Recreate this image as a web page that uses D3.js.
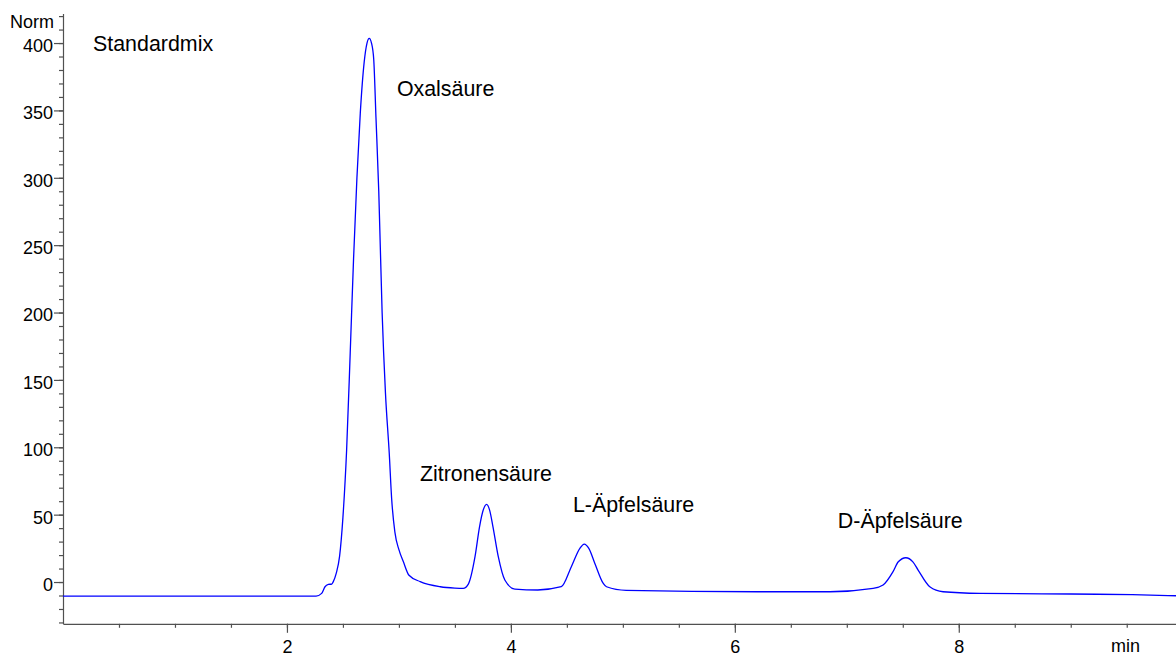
<!DOCTYPE html>
<html>
<head>
<meta charset="utf-8">
<script src="https://cdn.jsdelivr.net/npm/d3@7"></script>
<style>
  body { margin: 0; background: #fff; }
  svg { display: block; font-family: "Liberation Sans", Arial, sans-serif; }
</style>
</head>
<body>
<div id="chart"></div>
<script>
// retention time (min) and detector signal (Norm)
var times = [0.0, 1.0, 2.0, 2.26, 2.31, 2.34, 2.37, 2.40, 2.414, 2.44, 2.47, 2.50, 2.533, 2.565,
  2.595, 2.625, 2.655, 2.69, 2.715, 2.735, 2.755, 2.775, 2.795, 2.82, 2.85, 2.88, 2.914, 2.935,
  2.964, 3.0, 3.04, 3.09, 3.19, 3.37, 3.5, 3.574, 3.62, 3.68, 3.72, 3.753, 3.783, 3.81, 3.84,
  3.887, 3.946, 4.036, 4.24, 4.45, 4.54, 4.616, 4.655, 4.696, 4.75, 4.825, 4.854, 5.03,
  6.2, 6.85, 7.235, 7.324, 7.413, 7.46, 7.527, 7.59, 7.637, 7.741, 7.86, 8.19, 9.0, 9.55, 9.94];
var signal = [-10.4, -10.4, -10.4, -10.4, -8.4, -3.5, -1.8, -1.5, 0.3, 6.4, 19, 48, 98, 170,
  240, 300, 348, 386, 400, 403.5, 400, 388, 345, 290, 200, 140, 95, 62,
  37, 24, 15, 5, 0.3, -3.5, -4.5, -4.7, -1.5, 19, 41, 53.4, 57.6, 53.4, 41,
  19, 1.5, -5.2, -5.9, -3.5, 11.4, 25, 28.2, 25, 13.8, -1, -3.5, -6.2,
  -7.2, -7.2, -4.7, -2.2, 7.7, 15, 18, 15, 8.9, -3.5, -7.2, -8.4, -8.9, -9.4, -10.2];

var labelTexts = ["Standardmix", "Oxalsäure", "Zitronensäure", "L-Äpfelsäure", "D-Äpfelsäure"];
var labelTimes = [0.268, 2.982, 3.188, 4.554, 6.92];
var labelSignals = [394, 360.7, 75, 52, 40];

var yMajorTicks = [0, 50, 100, 150, 200, 250, 300, 350, 400];
var xMajorTicks = [2, 4, 6, 8];

var W = 1176, H = 657;

var svg = d3.select("#chart")
  .append("svg")
    .attr("width", W)
    .attr("height", H);

var x = d3.scaleLinear()
    .domain([0, 9.94])
    .range([63, 1176]);

var y = d3.scaleLinear()
    .domain([-31, 422])
    .range([623.8, 13.4]);

var axisColor = "#505050";

// minor ticks first, then major ticks with labels
var yMinor = d3.range(-30, 421, 10);
var xMinor = d3.range(0.5, 9.9, 0.5);

svg.append("g")
    .attr("transform", "translate(63,0)")
    .call(d3.axisLeft(y).tickValues(yMinor).tickSize(4).tickFormat(""))
    .call(function (g) { g.select(".domain").remove(); });

var yAxis = svg.append("g")
    .attr("transform", "translate(63,0)")
    .call(d3.axisLeft(y).tickValues(yMajorTicks).tickSize(9).tickSizeOuter(0).tickPadding(1));

svg.append("g")
    .attr("transform", "translate(0,623.8)")
    .call(d3.axisBottom(x).tickValues(xMinor).tickSize(4).tickFormat(""))
    .call(function (g) { g.select(".domain").remove(); });

var xAxis = svg.append("g")
    .attr("transform", "translate(0,623.8)")
    .call(d3.axisBottom(x).tickValues(xMajorTicks).tickSize(9).tickSizeOuter(0).tickPadding(3));

svg.selectAll(".tick line, .domain")
    .attr("stroke", axisColor)
    .attr("stroke-width", 1.2);

svg.selectAll(".tick text")
    .attr("fill", "#000")
    .style("font-family", "'Liberation Sans', Arial, sans-serif")
    .style("font-size", "18px");

yAxis.selectAll(".tick text").attr("dy", "8.4px");
xAxis.selectAll(".tick text").attr("dy", "0.98em");

// axis titles
svg.append("text")
    .attr("x", 54)
    .attr("y", 28)
    .attr("text-anchor", "end")
    .style("font-size", "18px")
    .text("Norm");

svg.append("text")
    .attr("x", 1111)
    .attr("y", 652)
    .style("font-size", "18px")
    .text("min");

// chromatogram trace
var trace = times.map(function (t, i) { return [t, signal[i]]; });

var line = d3.line()
    .x(function (d) { return x(d[0]); })
    .y(function (d) { return y(d[1]); })
    .curve(d3.curveMonotoneX);

svg.append("path")
    .datum(trace)
    .attr("fill", "none")
    .attr("stroke", "#0000ff")
    .attr("stroke-width", 1.3)
    .attr("d", line);

// peak annotations
svg.selectAll(".peak-label")
    .data(labelTexts)
    .enter()
    .append("text")
      .attr("class", "peak-label")
      .attr("x", function (d, i) { return x(labelTimes[i]); })
      .attr("y", function (d, i) { return y(labelSignals[i]); })
      .style("font-size", "21.4px")
      .attr("fill", "#000")
      .text(function (d) { return d; });
</script>
</body>
</html>
